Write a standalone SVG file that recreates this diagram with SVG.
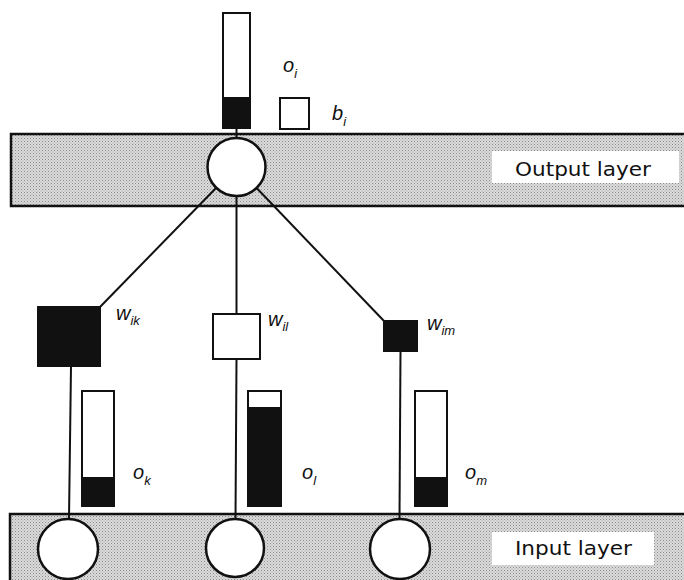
<svg xmlns="http://www.w3.org/2000/svg" width="684" height="580" viewBox="0 0 684 580">
  <defs>
    <pattern id="dots" width="3" height="3" patternUnits="userSpaceOnUse">
      <rect width="3" height="3" fill="#dadada"/>
      <rect x="0" y="0" width="1" height="1" fill="#8c8c8c"/>
      <rect x="1.5" y="1.5" width="1" height="1" fill="#a6a6a6"/>
    </pattern>
  </defs>
  <style>
    .band { fill: url(#dots); stroke: #111; stroke-width: 2.5; }
    .lbox { fill: #ffffff; stroke: none; }
    .ltext { font-family: "DejaVu Sans", "Liberation Sans", sans-serif; font-size: 20px; fill: #111; }
    .unit { fill: #ffffff; stroke: #111; stroke-width: 2.5; }
    .bar { fill: #ffffff; stroke: #111; stroke-width: 2; }
    .fill { fill: #111; stroke: none; }
    .wbox { stroke: #111; stroke-width: 2; }
    .conn { stroke: #111; stroke-width: 2; fill: none; }
    .sym { font-family: "Liberation Sans", Arial, sans-serif; font-style: italic; fill: #111; font-size: 20px; }
    .sub { font-size: 13px; }
  </style>

  <!-- layers -->
  <g id="output-layer">
    <rect class="band" x="11" y="134" width="690" height="72"/>
    <rect class="lbox" x="492" y="151" width="187" height="32"/>
    <text class="ltext" x="515" y="176" textLength="136" lengthAdjust="spacingAndGlyphs">Output layer</text>
  </g>
  <g id="input-layer">
    <rect class="band" x="10" y="514" width="690" height="80"/>
    <rect class="lbox" x="492" y="532" width="162" height="33"/>
    <text class="ltext" x="515" y="555" textLength="117" lengthAdjust="spacingAndGlyphs">Input layer</text>
  </g>

  <!-- connectors -->
  <g id="connectors">
    <line class="conn" x1="236.5" y1="128" x2="236.5" y2="140"/>
    <line class="conn" x1="236.5" y1="167" x2="100" y2="307"/>
    <line class="conn" x1="236.5" y1="167" x2="236.5" y2="314"/>
    <line class="conn" x1="236.5" y1="167" x2="384" y2="321"/>
    <line class="conn" x1="71" y1="366" x2="69" y2="519"/>
    <line class="conn" x1="236.5" y1="359" x2="235.5" y2="519"/>
    <line class="conn" x1="400.5" y1="351" x2="399.5" y2="519"/>
  </g>

  <!-- output unit i -->
  <g id="unit-i">
    <circle class="unit" cx="236.5" cy="167" r="29"/>
  </g>
  <g id="output-o-i">
    <rect class="bar" x="223" y="13" width="27" height="115"/>
    <rect class="fill" x="223" y="97" width="27" height="31"/>
    <text class="sym" x="283" y="72">o<tspan class="sub" dy="6">i</tspan></text>
  </g>
  <g id="bias-b-i">
    <rect class="bar" x="280" y="98" width="29" height="31"/>
    <text class="sym" x="332" y="120">b<tspan class="sub" dy="6">i</tspan></text>
  </g>

  <!-- weights -->
  <g id="weight-ik">
    <rect class="wbox" fill="#111" x="38" y="307" width="62" height="59"/>
    <text class="sym" x="116" y="320" font-size="18">w<tspan class="sub" dy="5">ik</tspan></text>
  </g>
  <g id="weight-il">
    <rect class="wbox" fill="#ffffff" x="213" y="314" width="47" height="45"/>
    <text class="sym" x="268" y="326" font-size="18">w<tspan class="sub" dy="5">il</tspan></text>
  </g>
  <g id="weight-im">
    <rect class="wbox" fill="#111" x="384" y="321" width="33" height="30"/>
    <text class="sym" x="427" y="330" font-size="18">w<tspan class="sub" dy="5">im</tspan></text>
  </g>

  <!-- input activations -->
  <g id="output-o-k">
    <rect class="bar" x="82" y="391" width="32" height="115"/>
    <rect class="fill" x="82" y="477" width="32" height="29"/>
    <text class="sym" x="133" y="479">o<tspan class="sub" dy="6">k</tspan></text>
  </g>
  <g id="output-o-l">
    <rect class="bar" x="248" y="391" width="33" height="115"/>
    <rect class="fill" x="248" y="407" width="33" height="99"/>
    <text class="sym" x="302" y="479">o<tspan class="sub" dy="6">l</tspan></text>
  </g>
  <g id="output-o-m">
    <rect class="bar" x="415" y="391" width="32" height="115"/>
    <rect class="fill" x="415" y="477" width="32" height="29"/>
    <text class="sym" x="465" y="479">o<tspan class="sub" dy="6">m</tspan></text>
  </g>

  <!-- input units -->
  <g id="unit-k">
    <circle class="unit" cx="68" cy="549" r="30"/>
  </g>
  <g id="unit-l">
    <circle class="unit" cx="235" cy="548" r="29"/>
  </g>
  <g id="unit-m">
    <circle class="unit" cx="400" cy="549" r="30"/>
  </g>
</svg>
